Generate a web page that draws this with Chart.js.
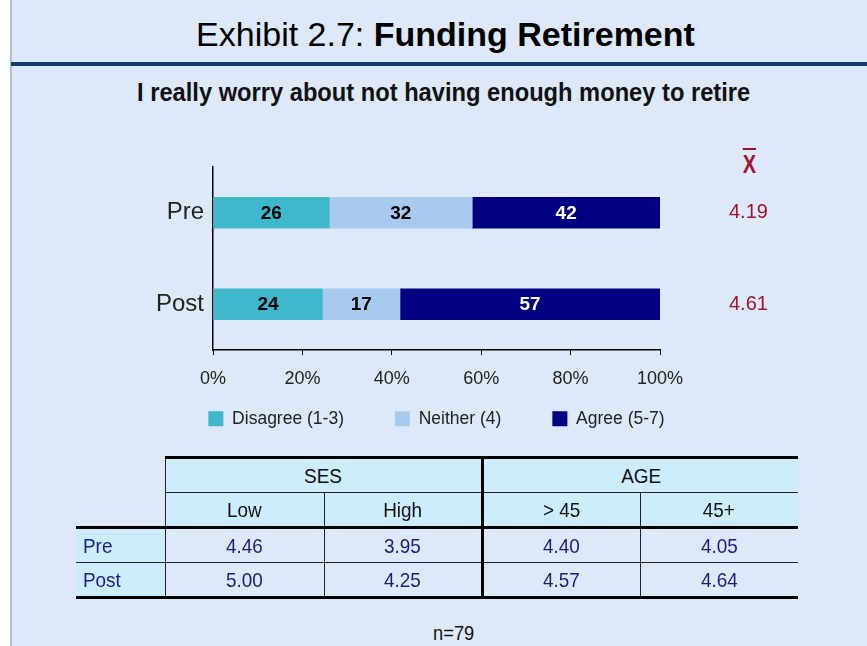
<!DOCTYPE html>
<html>
<head>
<meta charset="utf-8">
<script src="https://cdn.jsdelivr.net/npm/chart.js@4"></script>
<style>
  html, body { margin: 0; padding: 0; }
  body {
    width: 867px; height: 646px; position: relative; overflow: hidden;
    background: #fff;
    font-family: "Liberation Sans", Arial, sans-serif;
  }
  #slide {
    position: absolute; left: 10px; top: 0; width: 857px; height: 646px;
    background: #dde9f8;
    border-left: 2px solid #a9c1e6;
  }
  .sx { display: inline-block; transform: scaleX(0.9); }
  #title {
    position: absolute; left: 0; width: 867px; top: 15px; text-align: center;
    font-size: 34px; color: #000; margin-left: 12px; white-space: nowrap;
  }
  #rule { position: absolute; left: 11px; top: 62px; width: 856px; height: 4px; background: #0f3a6b; }
  #subtitle {
    position: absolute; left: 0; width: 867px; top: 77px; text-align: center;
    font-size: 26px; font-weight: bold; color: #111; margin-left: 10px; white-space: nowrap;
  }
  #subtitle span { display: inline-block; }
  #xbar {
    position: absolute; left: 741px; top: 150px; font-size: 25px; font-weight: bold;
    color: #a0122e; text-decoration: overline; transform: scaleX(0.8);
  }
  #chartBox { position: absolute; left: 0; top: 140px; width: 867px; height: 330px; }
  table {
    position: absolute; left: 76px; top: 456px; border-collapse: collapse;
    font-size: 21px; table-layout: fixed;
  }
  td { height: 33px; padding: 0; text-align: center; color: #111; white-space: nowrap; }
  td.h { background: #cdedfd; }
  td.v { color: #1c1c7e; }
  td.r { background: #cdedfd; color: #1c1c8a; text-align: left; padding-left: 7px; }
  td.r .sx { transform-origin: left center; }
  #n { position: absolute; left: 0; width: 867px; top: 621px; text-align: center; font-size: 21px; color: #111; margin-left: 20px; }
  #n .sx { transform: scaleX(0.87); }
</style>
</head>
<body>
<div id="slide"></div>
<div id="title">Exhibit 2.7: <b>Funding Retirement</b></div>
<div id="rule"></div>
<div id="subtitle"><span id="subText">I really worry about not having enough money to retire</span></div>
<div id="xbar">X</div>
<div id="chartBox"><canvas id="chart" width="867" height="330"></canvas></div>
<table id="tbl"></table>
<div id="n"><span class="sx">n=79</span></div>

<script>
const categories = ["Pre", "Post"];
const seriesNames = ["Disagree (1-3)", "Neither (4)", "Agree (5-7)"];
const disagree = [26, 24];
const neither = [32, 17];
const agree = [42, 57];
const means = ["4.19", "4.61"];
const xTicks = ["0%", "20%", "40%", "60%", "80%", "100%"];

const sesGroups = ["Low", "High"];
const ageGroups = ["> 45", "45+"];
const preMeans = ["4.46", "3.95", "4.40", "4.05"];
const postMeans = ["5.00", "4.25", "4.57", "4.64"];

const baseFont = "'Liberation Sans', Arial, sans-serif";
const colors = ["#40b8cc", "#a8caee", "#000080"];

// squeeze subtitle to the condensed width of the original
(function () {
    const s = document.getElementById("subText");
    s.style.transform = "scaleX(" + (613 / s.offsetWidth) + ")";
})();

// build the table
(function () {
    const thick = "3px solid #000", thin = "1px solid #222";
    const widths = [89, 159, 158, 158, 158];
    const sx = t => `<span class="sx">${t}</span>`;
    let html = "<colgroup>" + widths.map(w => `<col style="width:${w}px">`).join("") + "</colgroup>";
    html += `<tr><td></td>
      <td class="h" colspan="2" style="border-top:${thick};border-left:${thin};border-bottom:${thin}">${sx("SES")}</td>
      <td class="h" colspan="2" style="border-top:${thick};border-left:${thick};border-bottom:${thin}">${sx("AGE")}</td></tr>`;
    const sub = sesGroups.concat(ageGroups);
    html += "<tr><td style='border-bottom:" + thick + "'></td>" + sub.map((s, i) =>
        `<td class="h" style="border-bottom:${thick};border-left:${i === 2 ? thick : thin}">${sx(s)}</td>`).join("") + "</tr>";
    [["Pre", preMeans, thin], ["Post", postMeans, thick]].forEach(([name, vals, bb]) => {
        html += `<tr><td class="r" style="border-bottom:${bb}">${sx(name)}</td>` + vals.map((v, i) =>
            `<td class="v" style="border-bottom:${bb};border-left:${i === 2 ? thick : thin}">${sx(v)}</td>`).join("") + "</tr>";
    });
    document.getElementById("tbl").innerHTML = html;
})();

const totals = categories.map((c, i) => disagree[i] + neither[i] + agree[i]);
const raw = [disagree, neither, agree];

const barLabels = {
    id: "barLabels",
    afterDatasetsDraw(chart) {
        const ctx = chart.ctx;
        ctx.save();
        ctx.font = "bold 19px " + baseFont;
        ctx.textAlign = "center";
        ctx.textBaseline = "middle";
        chart.data.datasets.forEach((ds, di) => {
            chart.getDatasetMeta(di).data.forEach((bar, i) => {
                ctx.fillStyle = di === 2 ? "#fff" : "#000";
                ctx.fillText(String(raw[di][i]), (bar.x + bar.base) / 2, bar.y + 1);
            });
        });
        ctx.restore();
    }
};

// the legend sits closer to the axis than Chart.js' padding allows
const legendLift = {
    id: "legendLift",
    afterLayout(chart) {
        chart.legend.top -= 31;
        chart.legend.bottom -= 31;
    }
};

new Chart(document.getElementById("chart").getContext("2d"), {
    type: "bar",
    data: {
        labels: categories,
        datasets: raw.map((arr, di) => ({
            label: seriesNames[di],
            data: arr.map((v, i) => v / totals[i] * 100),
            backgroundColor: colors[di],
            borderWidth: 0,
            barThickness: 31,
        })),
    },
    options: {
        indexAxis: "y",
        responsive: false,
        animation: false,
        layout: { padding: { top: 27, bottom: 1.5, left: 6, right: 0 } },
        scales: {
            x: {
                stacked: true,
                min: 0,
                max: 100,
                ticks: {
                    stepSize: 20,
                    padding: 13,
                    color: "#222",
                    font: { family: baseFont, size: 18 },
                    callback: (v, i) => xTicks[i],
                },
                grid: { drawOnChartArea: false, tickLength: 5, color: "#000" },
                border: { color: "#000", width: 1.5 },
                afterFit: s => { s.height = 40; },
            },
            y: {
                stacked: true,
                ticks: {
                    padding: 9,
                    color: "#222",
                    font: { family: baseFont, size: 24 },
                },
                grid: { display: false, drawTicks: false },
                border: { color: "#000", width: 1.5 },
                afterFit: s => { s.width = 207; s.paddingTop = 0; s.paddingBottom = 0; },
            },
            y2: {
                type: "category",
                labels: means,
                position: "right",
                offset: true,
                ticks: {
                    padding: 69,
                    color: "#a0122e",
                    font: { family: baseFont, size: 20 },
                },
                grid: { display: false, drawTicks: false },
                border: { display: false },
                afterFit: s => { s.width = 207; s.paddingTop = 0; s.paddingBottom = 0; },
            },
        },
        plugins: {
            legend: {
                position: "bottom",
                labels: {
                    boxWidth: 15,
                    boxHeight: 15,
                    padding: 51,
                    color: "#222",
                    font: { family: baseFont, size: 17.5 },
                },
            },
            tooltip: { enabled: false },
        },
    },
    plugins: [barLabels, legendLift],
});
</script>
</body>
</html>
